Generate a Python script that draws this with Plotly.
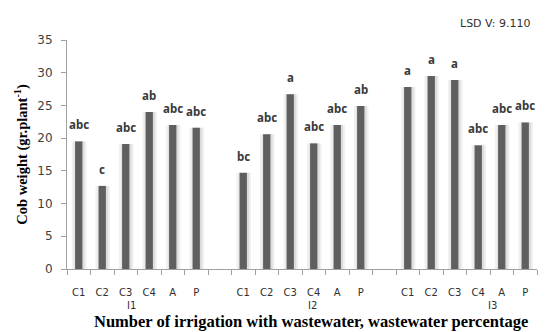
import plotly.graph_objects as go

groups = ["I1", "I2", "I3"]
treatments = ["C1", "C2", "C3", "C4", "A", "P"]
values_I1 = [19.5, 12.7, 19.1, 24.0, 22.0, 21.6]
values_I2 = [14.7, 20.6, 26.7, 19.2, 22.0, 24.9]
values_I3 = [27.8, 29.5, 28.9, 18.9, 22.0, 22.4]
letters_I1 = ["abc", "c", "abc", "ab", "abc", "abc"]
letters_I2 = ["bc", "abc", "a", "abc", "abc", "ab"]
letters_I3 = ["a", "a", "a", "abc", "abc", "abc"]
y_ticks = [0, 5, 10, 15, 20, 25, 30, 35]

all_vals = [values_I1, values_I2, values_I3]
all_letters = [letters_I1, letters_I2, letters_I3]

xs, ys, ls, labs = [], [], [], []
for gi, (vals, lets) in enumerate(zip(all_vals, all_letters)):
    for ti, (v, l) in enumerate(zip(vals, lets)):
        xs.append(gi * 7 + ti)
        ys.append(v)
        ls.append(l)
        labs.append(treatments[ti])

fig = go.Figure()
# soft shadow around the bars
fig.add_trace(go.Bar(x=xs, y=ys, width=0.62, offset=-0.29, marker=dict(color="#f0f0f0", line=dict(width=0)),
                     hoverinfo="skip", showlegend=False))
fig.add_trace(go.Bar(x=xs, y=ys, width=0.44, offset=-0.19, marker=dict(color="#dcdcdc", line=dict(width=0)),
                     hoverinfo="skip", showlegend=False))
fig.add_trace(go.Bar(x=xs, y=ys, width=0.31, offset=-0.155, marker=dict(color="#5f5f5f", line=dict(width=0)),
                     showlegend=False))

for x, y, l in zip(xs, ys, ls):
    fig.add_annotation(x=x, y=y, text="<b>%s</b>" % l, showarrow=False, yanchor="bottom", yshift=7,
                       font=dict(family="Noto Sans", size=11.5, color="#3a3a3a"))

# group labels (positioned as in the reference)
group_pos = [2.25, 9.95, 17.6]
for g, gx in zip(groups, group_pos):
    fig.add_annotation(x=gx, y=0, text=g, showarrow=False, yanchor="middle", yshift=-36,
                       font=dict(family="DejaVu Sans", size=10, color="#303030"))

fig.add_annotation(xref="paper", yref="paper", x=1.0, y=1.0, xanchor="right", yanchor="middle", yshift=17, xshift=-5,
                   text="LSD V: 9.110", showarrow=False, font=dict(family="DejaVu Sans", size=11, color="#303030"))

fig.add_annotation(xref="paper", yref="paper", x=0.5, y=0, xanchor="center", yanchor="middle", yshift=-52, xshift=9,
                   text="<b>Number of irrigation with wastewater, wastewater percentage</b>", showarrow=False,
                   font=dict(family="Liberation Serif", size=16.5, color="black"))

boundaries = [i - 0.5 for i in range(21)]
fig.update_xaxes(range=[-0.5, 19.5], tickmode="array", tickvals=xs, ticktext=labs, ticks="",
                 ticklabelstandoff=14,
                 tickfont=dict(family="DejaVu Sans", size=10, color="#303030"),
                 showline=True, linecolor="#a0a0a0", linewidth=1, showgrid=False, zeroline=False,
                 minor=dict(tickmode="array", tickvals=boundaries, ticks="outside", ticklen=5, tickcolor="#a0a0a0"))
fig.update_yaxes(range=[0, 35], tickvals=y_ticks, ticks="outside", ticklen=5, tickcolor="#a0a0a0",
                 ticklabelstandoff=6,
                 tickfont=dict(family="DejaVu Sans", size=12, color="#404040"),
                 showline=True, linecolor="#a0a0a0", linewidth=1, showgrid=False, zeroline=False,
                 title=dict(text="<b>Cob weight (gr.plant<sup>-1</sup>)</b>",
                            font=dict(family="Liberation Serif", size=14.5, color="black"), standoff=6))

fig.update_layout(width=540, height=324, barmode="overlay", plot_bgcolor="white", paper_bgcolor="white",
                  margin=dict(l=59, r=11, t=32, b=63))
fig.write_html("out.html")
